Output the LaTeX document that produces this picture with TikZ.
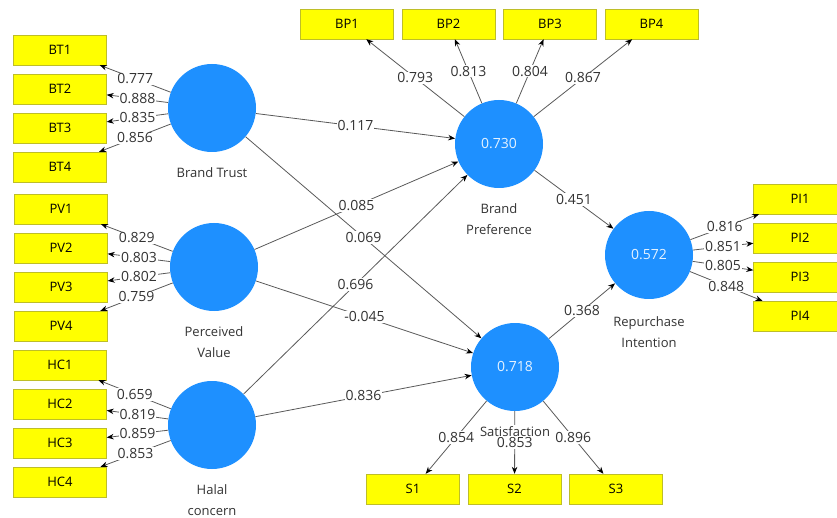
\documentclass[tikz,border=0pt]{standalone}
\usepackage{fontspec}
\setmainfont{Open Sans}
\usepackage{xcolor}
\usetikzlibrary{positioning, arrows.meta}
\definecolor{lvblue}{RGB}{30,144,255}
\definecolor{indyellow}{RGB}{255,255,0}
\definecolor{indborder}{RGB}{190,190,40}

\begin{document}
\begin{tikzpicture}[x=1pt, y=-1pt,
    latent/.style={circle, fill=lvblue, minimum size=88pt, inner sep=0pt, text=white!88!lvblue, font=\fontsize{14}{16}\selectfont},
    ind/.style={draw=indborder, fill=indyellow, minimum width=93pt, minimum height=30pt, inner sep=0pt, font=\fontsize{13}{15}\selectfont},
    coef/.style={fill=white, inner sep=1pt, text=black!80, font=\fontsize{14}{16}\selectfont},
    lbl/.style={align=center, fill=white, inner sep=1pt, text=black!80, font=\fontsize{13}{21}\selectfont},
    conn/.style={draw=black!65, line width=0.8pt, ->},
    >={Stealth[length=7pt, width=5.5pt, color=black]}, node distance=39pt]
  \useasboundingbox (0,0) rectangle (837,518);
  % latent variables
  \node[latent] (bt) at (212,108) {};
  \node[latent] (pv) at (214,267) {};
  \node[latent] (hc) at (212,425) {};
  \node[latent] (bp) at (499,144) {0.730};
  \node[latent] (sat) at (515,367) {0.718};
  \node[latent] (ri) at (649,255) {0.572};
  % indicators
  \node[ind] (bt1) at (60,50) {BT1};
  \node[ind, below of=bt1] (bt2) {BT2};
  \node[ind, below of=bt2] (bt3) {BT3};
  \node[ind, below of=bt3] (bt4) {BT4};
  \node[ind] (pv1) at (61,209) {PV1};
  \node[ind, below of=pv1] (pv2) {PV2};
  \node[ind, below of=pv2] (pv3) {PV3};
  \node[ind, below of=pv3] (pv4) {PV4};
  \node[ind] (hc1) at (60,365) {HC1};
  \node[ind, below of=hc1] (hc2) {HC2};
  \node[ind, below of=hc2] (hc3) {HC3};
  \node[ind, below of=hc3] (hc4) {HC4};
  \node[ind] (bp1) at (347,24) {BP1};
  \node[ind, right of=bp1, node distance=101.5pt] (bp2) {BP2};
  \node[ind, right of=bp2, node distance=101.5pt] (bp3) {BP3};
  \node[ind, right of=bp3, node distance=101.5pt] (bp4) {BP4};
  \node[ind] (s1) at (413,489) {S1};
  \node[ind, right of=s1, node distance=101.5pt] (s2) {S2};
  \node[ind, right of=s2, node distance=101.5pt] (s3) {S3};
  \node[ind] (pi1) at (800,199) {PI1};
  \node[ind, below of=pi1] (pi2) {PI2};
  \node[ind, below of=pi2] (pi3) {PI3};
  \node[ind, below of=pi3] (pi4) {PI4};
  % outer loadings
  \draw[conn] (bt) -- node[coef, midway] {0.777} (bt1);
  \draw[conn] (bt) -- node[coef, midway] {0.888} (bt2);
  \draw[conn] (bt) -- node[coef, midway] {0.835} (bt3);
  \draw[conn] (bt) -- node[coef, midway] {0.856} (bt4);
  \draw[conn] (pv) -- node[coef, midway] {0.829} (pv1);
  \draw[conn] (pv) -- node[coef, midway] {0.803} (pv2);
  \draw[conn] (pv) -- node[coef, midway] {0.802} (pv3);
  \draw[conn] (pv) -- node[coef, midway] {0.759} (pv4);
  \draw[conn] (hc) -- node[coef, midway] {0.659} (hc1);
  \draw[conn] (hc) -- node[coef, midway] {0.819} (hc2);
  \draw[conn] (hc) -- node[coef, midway] {0.859} (hc3);
  \draw[conn] (hc) -- node[coef, midway] {0.853} (hc4);
  \draw[conn] (bp) -- node[coef, midway] {0.793} (bp1);
  \draw[conn] (bp) -- node[coef, midway] {0.813} (bp2);
  \draw[conn] (bp) -- node[coef, midway] {0.804} (bp3);
  \draw[conn] (bp) -- node[coef, midway] {0.867} (bp4);
  \draw[conn] (sat) -- node[coef, midway] {0.854} (s1);
  \draw[conn] (sat) -- node[coef, midway] {0.853} (s2);
  \draw[conn] (sat) -- node[coef, midway] {0.896} (s3);
  \draw[conn] (ri) -- node[coef, midway] {0.816} (pi1);
  \draw[conn] (ri) -- node[coef, midway] {0.851} (pi2);
  \draw[conn] (ri) -- node[coef, midway] {0.805} (pi3);
  \draw[conn] (ri) -- node[coef, midway] {0.848} (pi4);
  % path coefficients
  \draw[conn] (bt) -- node[coef, midway] {0.117} (bp);
  \draw[conn] (bt) -- node[coef, midway] {0.069} (sat);
  \draw[conn] (pv) -- node[coef, midway] {0.085} (bp);
  \draw[conn] (pv) -- node[coef, midway] {-0.045} (sat);
  \draw[conn] (hc) -- node[coef, midway] {0.696} (bp);
  \draw[conn] (hc) -- node[coef, midway] {0.836} (sat);
  \draw[conn] (bp) -- node[coef, midway] {0.451} (ri);
  \draw[conn] (sat) -- node[coef, midway] {0.368} (ri);
  % construct names
  \node[lbl, below=14pt of bt] (btlab) {Brand Trust};
  \node[lbl, below=14pt of pv] (pvlab) {Perceived\\Value};
  \node[lbl, below=14pt of hc] (hclab) {Halal\\concern};
  \node[lbl, below=14pt of bp] (bplab) {Brand\\Preference};
  \node[lbl, below=14pt of sat] (satlab) {Satisfaction};
  \node[lbl, below=16pt of ri] (rilab) {Repurchase\\Intention};
\end{tikzpicture}
\end{document}
